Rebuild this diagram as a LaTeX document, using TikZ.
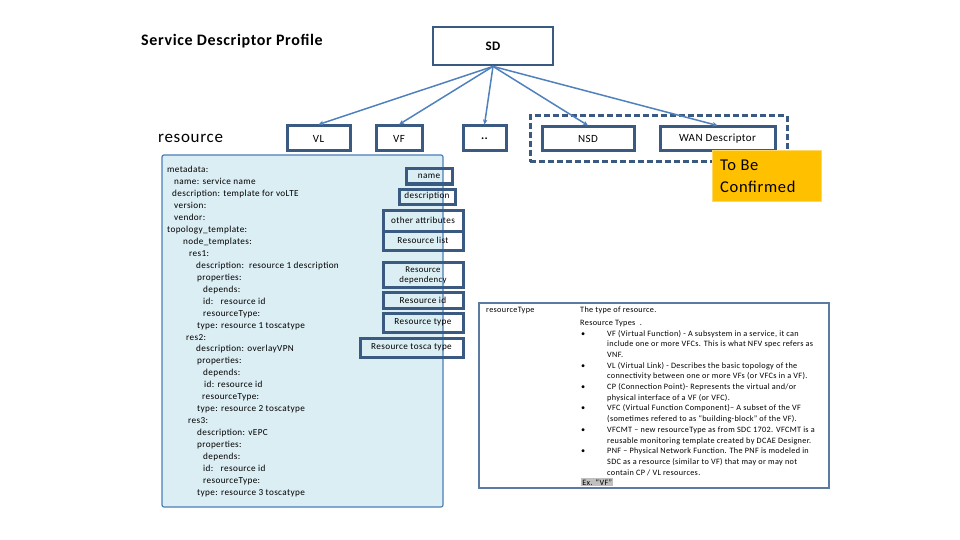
\documentclass[tikz,border=0pt]{standalone}
\usepackage{fontspec}
\setmainfont{Carlito}[LetterSpace=4]
\usetikzlibrary{arrows.meta}
\definecolor{navy}{HTML}{3B5A82}
\definecolor{arrowblue}{HTML}{4F81BD}
\definecolor{lightfill}{HTML}{DBEEF4}
\definecolor{bigborder}{HTML}{4A7EBB}
\definecolor{tbcyellow}{HTML}{FFC000}
\definecolor{tableborder}{HTML}{5B7BA3}
\definecolor{exgray}{HTML}{BFBFBF}
\tikzset{
  topbox/.style={draw=navy, line width=3pt, fill=white, inner sep=0pt, font=\fontsize{11}{13}\selectfont},
  attrbox/.style={draw=navy, line width=3pt, inner sep=0pt, align=center, font=\fontsize{9.2}{10}\selectfont},
  conn/.style={draw=arrowblue, line width=1.5pt, -{Stealth[length=5pt,width=4.5pt]}},
  codeline/.style={anchor=base west, inner sep=0pt, font=\fontsize{9.2}{11}\selectfont},
  tabline/.style={anchor=base west, inner sep=0pt, font=\fontsize{8.2}{9}\selectfont},
}
\begin{document}
\begin{tikzpicture}[x=1pt,y=-1pt]
\useasboundingbox (0,0) rectangle (960,540);
% title and label
\node[anchor=west, inner sep=0pt, font=\fontsize{16}{18}\selectfont\bfseries] (title) at (141,41) {Service Descriptor Profile};
\node[anchor=west, inner sep=0pt, font=\fontsize{17}{20}\selectfont] (reslabel) at (158,138) {resource};
% SD
\node[draw=navy, line width=2.8pt, fill=white, minimum width=120pt, minimum height=38pt, inner sep=0pt, font=\fontsize{13}{15}\selectfont\bfseries] (sd) at (493,46) {SD};
% dashed group
\node[draw=navy, line width=3pt, dash pattern=on 6pt off 3pt, minimum width=257pt, minimum height=46pt, inner sep=0pt] (grp) at (658.5,139) {};
% top boxes
\node[topbox, minimum width=63pt, minimum height=25pt] (vl) at (318.5,138.5) {VL};
\node[topbox, minimum width=46pt, minimum height=25pt] (vf) at (399,138.5) {VF};
\node[topbox, minimum width=43pt, minimum height=25pt, font=\fontsize{12}{14}\selectfont\bfseries] (dots) at (484.5,138.5) {..};
\node[topbox, minimum width=92pt, minimum height=24pt] (nsd) at (588,139) {NSD};
\node[topbox, minimum width=115pt, minimum height=24pt] (wan) at (717.5,139) {WAN Descriptor};
% connectors
\draw[conn] (sd.south) -- (vl.north);
\draw[conn] (sd.south) -- (vf.north);
\draw[conn] (sd.south) -- (dots.north);
\draw[conn] (sd.south) -- (nsd.north);
\draw[conn] (sd.south) -- (wan.north);
% to be confirmed
\node[fill=tbcyellow, draw=tbcyellow!60!white, line width=0.8pt, minimum width=109pt, minimum height=51pt, inner sep=0pt] (tbc) at (766.5,175.5) {};
\node[anchor=base west, inner sep=0pt, font=\fontsize{16.5}{20}\selectfont] (tbc1) at (720,171) {To Be};
\node[anchor=base west, inner sep=0pt, font=\fontsize{16.5}{20}\selectfont] (tbc2) at (720,193) {Confirmed};
% big code box
\node[fill=lightfill, draw=bigborder, line width=1.2pt, rounded corners=2pt, minimum width=281pt, minimum height=352pt, inner sep=0pt] (code) at (302.5,331) {};
\foreach \i/\x/\t in {
 1/167/{metadata:},
 2/174/{name: service name},
 3/172/{description: template for voLTE},
 4/174/{version:},
 5/174/{vendor:},
 6/167/{topology\_template:},
 7/183/{node\_templates:},
 8/189/{res1:},
 9/196/{description:\ \ resource 1 description},
 10/197/{properties:},
 11/203/{depends:},
 12/203/{id:\ \ \ resource id},
 13/203/{resourceType:},
 14/197/{type: resource 1 toscatype},
 15/186/{res2:},
 16/196/{description: overlayVPN},
 17/197/{properties:},
 18/203/{depends:},
 19/204/{id: resource id},
 20/202/{resourceType:},
 21/197/{type: resource 2 toscatype},
 22/188/{res3:},
 23/197/{description: vEPC},
 24/197/{properties:},
 25/203/{depends:},
 26/203/{id:\ \ \ resource id},
 27/203/{resourceType:},
 28/197/{type: resource 3 toscatype}} {
  \node[codeline] (cl\i) at (\x, {173+(\i-1)*11.93}) {\t};
}
% attribute boxes
\node[attrbox, minimum width=46pt, minimum height=15pt] (aname) at (429,176.5) {name};
\node[attrbox, minimum width=56pt, minimum height=15pt] (adesc) at (427,196.5) {description};
\node[attrbox, minimum width=80pt, minimum height=21pt] (aother) at (423,220.5) {other attributes};
\node[attrbox, minimum width=80pt, minimum height=19pt] (alist) at (423,240.5) {Resource list};
\node[attrbox, minimum width=80pt, minimum height=25pt, font=\fontsize{8.8}{9.8}\selectfont] (adep) at (423,275) {Resource\\dependency};
\node[attrbox, minimum width=80pt, minimum height=16pt] (aid) at (423,300) {Resource id};
\node[attrbox, minimum width=80pt, minimum height=19pt] (atype) at (423,322.5) {Resource type};
\node[attrbox, minimum width=103pt, minimum height=19pt] (atosca) at (411.5,347.5) {Resource tosca type};
% right table
\node[draw=tableborder, line width=1.5pt, minimum width=350pt, minimum height=185pt, inner sep=0pt] (rtable) at (654,395.5) {};
\node[tabline] (rkey) at (486,312) {resourceType};
\node[tabline] (r1) at (580,312) {The type of resource.};
\node[tabline] (r2) at (580,325) {Resource Types \ .};
\foreach \k/\t in {
 0/{VF (Virtual Function) - A subsystem in a service, it can},
 1/{include one or more VFCs. This is what NFV spec refers as},
 2/{VNF.},
 3/{VL (Virtual Link) - Describes the basic topology of the},
 4/{connectivity between one or more VFs (or VFCs in a VF).},
 5/{CP (Connection Point)- Represents the virtual and/or},
 6/{physical interface of a VF (or VFC).},
 7/{VFC (Virtual Function Component)– A subset of the VF},
 8/{(sometimes refered to as ``building-block'' of the VF).},
 9/{VFCMT – new resourceType as from SDC 1702. VFCMT is a},
 10/{reusable monitoring template created by DCAE Designer.},
 11/{PNF – Physical Network Function. The PNF is modeled in},
 12/{SDC as a resource (similar to VF) that may or may not},
 13/{contain CP / VL resources.}} {
  \node[tabline] (rb\k) at (607, {336+\k*10.7}) {\t};
}
\foreach \k in {0,3,5,7,9,11} {
  \node[tabline] (bul\k) at (581, {336+\k*10.7}) {•};
}
\node[fill=exgray, anchor=base west, inner sep=1.2pt, font=\fontsize{8.2}{9}\selectfont] (ex) at (581,485) {Ex. ``VF''};
\end{tikzpicture}
\end{document}
